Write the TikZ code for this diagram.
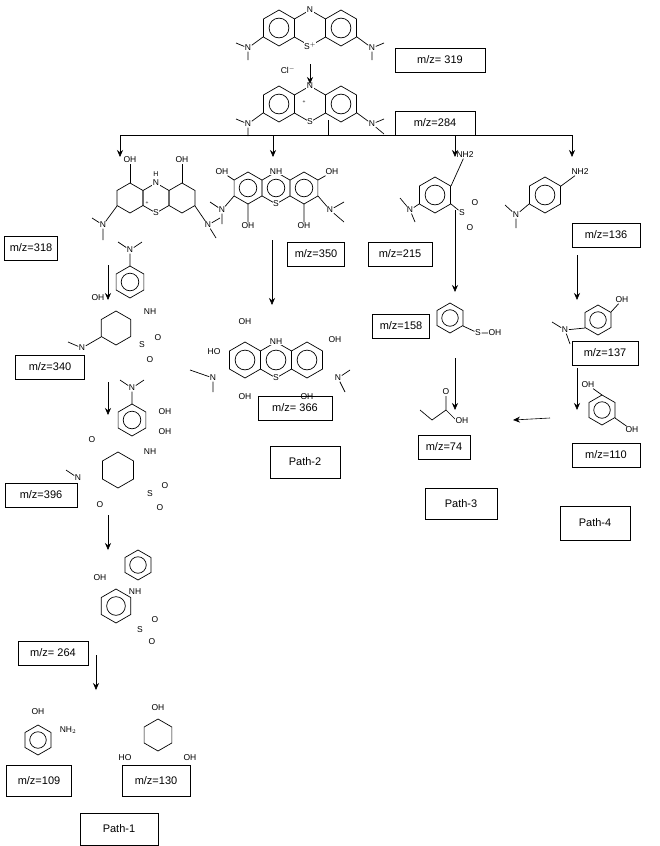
\documentclass[tikz,border=0pt]{standalone}
\usepackage{fontspec}
\setmainfont{Liberation Sans}
\usetikzlibrary{arrows.meta}
\newcommand\hexring[3]{\draw[mol] (#1,#2) +(90:#3) -- +(150:#3) -- +(210:#3) -- +(270:#3) -- +(330:#3) -- +(30:#3) -- cycle;}
\newcommand\aroring[3]{\hexring{#1}{#2}{#3}\draw[mol] (#1,#2) circle[radius=#3*0.55];}
\begin{document}
\begin{tikzpicture}[x=1pt,y=-1pt,
  box/.style={draw,thick,inner sep=3pt,font=\fontsize{11}{13}\selectfont,minimum height=24pt},
  arr/.style={-{Stealth[length=7pt,width=6pt]},semithick},
  mol/.style={line width=0.7pt},
  atm/.style={font=\fontsize{8.5}{9}\selectfont,inner sep=0.5pt,fill=white}]
\useasboundingbox (0,0) rectangle (660,846);
% 319
\foreach \c in {279,341}{\aroring{\c}{28}{18}} \hexring{310}{28}{18}
\node[atm] (a1) at (310,10) {N}; \node[atm] (a2) at (310,46) {S$^{+}$};
\node[atm] (a3) at (248,48) {N}; \node[atm] (a4) at (372,48) {N};
\draw[mol] (263,37)--(a3) (a3)--(236,43) (a3)--(248,60) (357,37)--(a4) (a4)--(384,43) (a4)--(372,60);
\node[atm] (cl) at (288,70) {Cl$^{-}$};
% 284
\foreach \c in {279,341}{\aroring{\c}{104}{18}} \hexring{310}{104}{18}
\node[atm] (b1) at (310,86) {N}; \node[atm] (b2) at (310,122) {S};
\node[font=\tiny] (bp) at (304,102) {+};
\node[atm] (b3) at (248,124) {N}; \node[atm] (b4) at (372,124) {N};
\draw[mol] (263,113)--(b3) (b3)--(236,119) (b3)--(248,136) (357,113)--(b4) (b4)--(384,119) (b4)--(384,134);
% 318
\foreach \c in {130,156,182}{\hexring{\c}{198}{15}}
\node[atm] (c1) at (130,160) {OH}; \node[atm] (c2) at (182,160) {OH};
\draw[mol] (130,183)--(c1) (182,183)--(c2);
\node[atm] (c3) at (156,183) {N}; \node[font=\fontsize{7}{8}\selectfont] (c3h) at (156,174) {H};
\node[atm] (c4) at (156,213) {S}; \node[font=\tiny] (c4p) at (147,203) {+};
\node[atm] (c5) at (103,225) {N}; \node[atm] (c6) at (208,225) {N};
\draw[mol] (117,206)--(c5) (c5)--(92,218) (c5)--(103,240) (195,206)--(c6) (c6)--(220,218) (c6)--(216,238);
% 350
\foreach \c in {248,276,304}{\aroring{\c}{188}{16}}
\node[atm] (d1) at (276,172) {NH}; \node[atm] (d2) at (276,204) {S};
\node[atm] (d3) at (222,172) {OH}; \node[atm] (d4) at (332,172) {OH};
\node[atm] (d5) at (248,226) {OH}; \node[atm] (d6) at (304,226) {OH};
\node[atm] (d7) at (222,210) {N}; \node[atm] (d8) at (330,210) {N};
\draw[mol] (234,180)--(d3) (318,180)--(d4) (248,204)--(d5) (304,204)--(d6) (234,196)--(d7) (318,196)--(d8) (d7)--(210,202) (d7)--(222,224) (d8)--(344,202) (d8)--(344,222);
% 215
\aroring{435}{195}{18}
\node[atm] (e1) at (465,155) {NH2}; \node[atm] (e2) at (410,210) {N};
\node[atm] (e3) at (462,213) {S}; \node[atm] (e4) at (475,203) {O}; \node[atm] (e5) at (470,228) {O};
\draw[mol] (451,186)--(e1) (419,204)--(e2) (e2)--(400,198) (e2)--(415,222) (451,204)--(e3);
% 136
\aroring{545}{195}{18}
\node[atm] (f1) at (580,172) {NH2}; \node[atm] (f2) at (516,215) {N};
\draw[mol] (561,186)--(f1) (529,204)--(f2) (f2)--(505,205) (f2)--(516,228);
% 340
\aroring{130}{282}{16} \hexring{116}{328}{17}
\node[atm] (g1) at (130,250) {N}; \draw[mol] (130,266)--(g1) (g1)--(118,242) (g1)--(142,242);
\node[atm] (g2) at (150,312) {NH}; \node[atm] (g3) at (98,298) {OH};
\node[atm] (g4) at (142,345) {S}; \node[atm] (g5) at (158,338) {O}; \node[atm] (g6) at (150,360) {O};
\node[atm] (g7) at (82,348) {N}; \draw[mol] (101,337)--(g7) (g7)--(68,342);
% 366
\foreach \c in {245,276,307}{\aroring{\c}{360}{18}}
\node[atm] (h1) at (276,342) {NH}; \node[atm] (h2) at (276,378) {S};
\node[atm] (h3) at (214,352) {HO}; \node[atm] (h4) at (335,340) {OH};
\node[atm] (h5) at (245,397) {OH}; \node[atm] (h6) at (307,397) {OH};
\node[atm] (h7) at (245,322) {OH};
\node[atm] (h8) at (213,378) {N}; \node[atm] (h9) at (338,378) {N};
\draw[mol] (h8)--(190,370) (h8)--(213,392) (h9)--(350,370) (h9)--(345,392);
% 158
\aroring{450}{318}{15}
\node[atm] (i1) at (478,333) {S}; \node[atm] (i2) at (495,333) {OH};
\draw[mol] (463,326)--(i1) (i1)--(i2);
% 137
\aroring{598}{320}{15}
\node[atm] (j1) at (622,300) {OH}; \node[atm] (j2) at (565,330) {N};
\draw[mol] (585,328)--(j2) (j2)--(552,322) (j2)--(570,344) (611,312)--(j1);
% 74
\draw[mol] (420,410)--(432,420)--(446,410)--(456,420) (446,410)--(446,395);
\node[atm] (k1) at (446,392) {O}; \node[atm] (k2) at (462,421) {OH};
% 110
\aroring{602}{410}{15}
\node[atm] (l1) at (588,385) {OH}; \node[atm] (l2) at (632,430) {OH};
\draw[mol] (602,395)--(l1) (615,418)--(l2);
% 396
\aroring{132}{420}{16} \hexring{118}{470}{18}
\node[atm] (m1) at (132,388) {N}; \draw[mol] (132,404)--(m1) (m1)--(120,380) (m1)--(144,380);
\node[atm] (m2) at (165,412) {OH}; \node[atm] (m3) at (165,432) {OH};
\node[atm] (m4) at (150,452) {NH}; \node[atm] (m5) at (92,440) {O}; \node[atm] (m6) at (100,505) {O};
\node[atm] (m7) at (150,494) {S}; \node[atm] (m8) at (165,486) {O}; \node[atm] (m9) at (160,508) {O};
\node[atm] (m10) at (78,478) {N}; \draw[mol] (m10)--(66,470);
% 264
\aroring{138}{565}{15} \aroring{116}{606}{17}
\node[atm] (n1) at (135,592) {NH}; \node[atm] (n2) at (100,578) {OH};
\node[atm] (n3) at (140,630) {S}; \node[atm] (n4) at (155,620) {O}; \node[atm] (n5) at (152,642) {O};
% 109
\aroring{38}{740}{15} \node[atm] (o1) at (38,712) {OH}; \node[atm] (o2) at (68,730) {NH$_2$};
% 130
\hexring{158}{735}{16} \node[atm] (p1) at (158,708) {OH};
\node[atm] (p2) at (125,758) {HO}; \node[atm] (p3) at (190,758) {OH};
% boxes
\node[box,minimum width=90pt] (b319) at (440,60) {m/z= 319};
\node[box,minimum width=80pt] (b284) at (435,123) {m/z=284};
\node[box,minimum width=53pt] (b318) at (31,248) {m/z=318};
\node[box,minimum width=57pt] (b350) at (316,254) {m/z=350};
\node[box,minimum width=64pt] (b215) at (400,254) {m/z=215};
\node[box,minimum width=68pt] (b136) at (606,235) {m/z=136};
\node[box,minimum width=69pt] (b340) at (50,367) {m/z=340};
\node[box,minimum width=57pt] (b158) at (401,326) {m/z=158};
\node[box,minimum width=66pt] (b137) at (605,353) {m/z=137};
\node[box,minimum width=74pt] (b366) at (295,408) {m/z= 366};
\node[box,minimum width=52pt] (b74) at (444,447) {m/z=74};
\node[box,minimum width=68pt] (b110) at (606,455) {m/z=110};
\node[box,minimum width=72pt] (b396) at (41,495) {m/z=396};
\node[box,minimum width=70pt,minimum height=32pt] (p2b) at (305,462) {Path-2};
\node[box,minimum width=72pt,minimum height=31pt] (p3b) at (461,504) {Path-3};
\node[box,minimum width=70pt,minimum height=34pt] (p4b) at (595,523) {Path-4};
\node[box,minimum width=70pt] (b264) at (53,653) {m/z= 264};
\node[box,minimum width=65pt,minimum height=31pt] (b109) at (39,781) {m/z=109};
\node[box,minimum width=68pt,minimum height=31pt] (b130) at (156,781) {m/z=130};
\node[box,minimum width=78pt,minimum height=32pt] (p1b) at (119,829) {Path-1};
% arrows
\coordinate (t1) at (310,64); \coordinate (t2) at (310,84);
\draw[arr] (t1)--(t2);
\draw[semithick] (328,120)--(328,135) (120,135)--(572,135);
\foreach \x in {120,273,455,572}{\draw[arr] (\x,135)--(\x,157);}
\draw[arr] (108,265)--(108,300);
\draw[arr] (108,382)--(108,415);
\draw[arr] (108,515)--(108,550);
\draw[arr] (96,655)--(96,690);
\draw[arr] (272,240)--(272,305);
\draw[arr] (455,210)--(455,292);
\draw[arr] (577,255)--(577,300);
\draw[arr] (577,368)--(577,410);
\draw[arr] (455,358)--(455,410);
\draw[arr] (550,418)--(513,420);
\end{tikzpicture}
\end{document}
